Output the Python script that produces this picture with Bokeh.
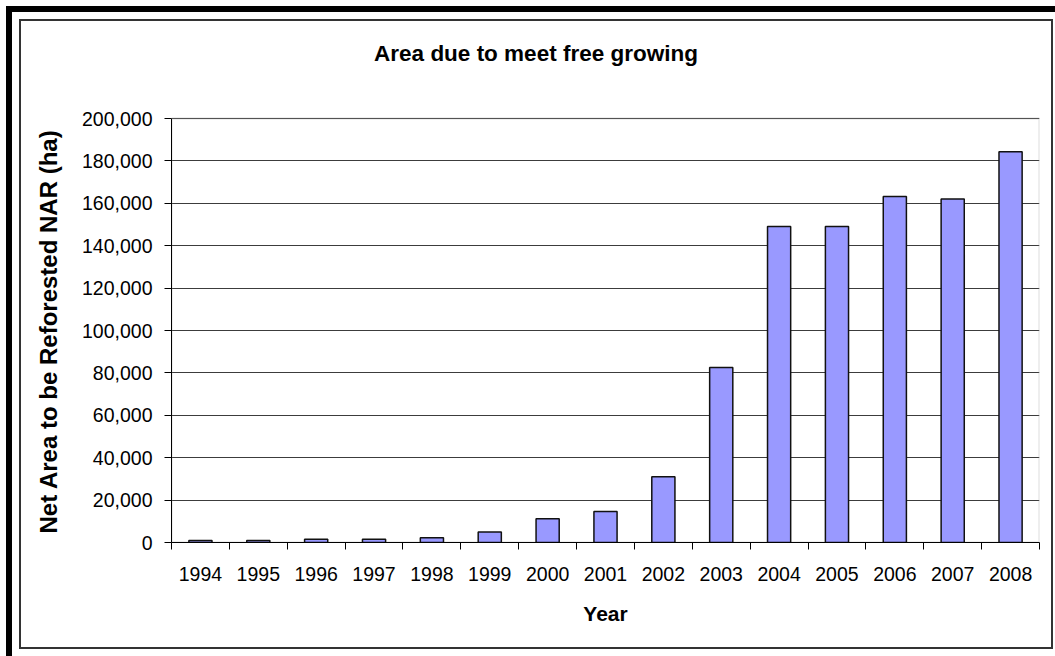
from bokeh.plotting import figure
from bokeh.models import (ColumnDataSource, Range1d, FixedTicker, NumeralTickFormatter,
                          InlineStyleSheet, BoxAnnotation, Label, Title)
from bokeh.embed import file_html
from bokeh.resources import INLINE

# Area due to meet free growing, by year (ha)
years = ["1994", "1995", "1996", "1997", "1998", "1999", "2000", "2001",
         "2002", "2003", "2004", "2005", "2006", "2007", "2008"]
area_ha = [900, 900, 1500, 1500, 2200, 4900, 11200, 14600,
           31000, 82500, 149000, 149000, 163200, 162000, 184300]
y_ticks = [0, 20000, 40000, 60000, 80000, 100000, 120000, 140000,
           160000, 180000, 200000]

TITLE = "Area due to meet free growing"
X_LABEL = "Year"
Y_LABEL = "Net Area to be Reforested NAR  (ha)"

FONT = "Liberation Sans"
W, H = 1055, 656
# pixel layout: value axis runs from PLOT_T (top tick) down to PLOT_B (zero);
# the drawing frame reaches up to FRAME_T so the title can sit inside it
PLOT_L, PLOT_R, PLOT_T, PLOT_B = 171, 1039, 118, 542
FRAME_T = 24

y_max = y_ticks[-1]
y_top = y_max * (PLOT_B - FRAME_T) / (PLOT_B - PLOT_T)

# one category slot per year: bars at slot centres, ticks on slot boundaries
centers = [i + 0.5 for i in range(len(years))]
bounds = list(range(len(years) + 1))

source = ColumnDataSource(dict(x=centers, year=years, area=area_ha))

p = figure(width=W, height=H,
           x_range=Range1d(0, len(years)), y_range=Range1d(0, y_top),
           output_backend="svg", toolbar_location=None,
           min_border_left=PLOT_L, min_border_right=W - PLOT_R,
           min_border_top=FRAME_T, min_border_bottom=H - PLOT_B,
           background_fill_color="white", border_fill_color="white")
p.outline_line_color = None

p.xgrid.visible = False
p.ygrid.grid_line_color = "#3c3c3c"
p.ygrid.grid_line_width = 1

# plot area border (grey, top and right; axes cover the other two sides)
p.add_layout(BoxAnnotation(left=0, right=len(years), bottom=0, top=y_max,
                           fill_alpha=0, line_color="#8c8c8c", line_width=2,
                           level="underlay"))

p.vbar(x="x", top="area", width=0.4, source=source,
       fill_color="#9999FF", line_color="#111111", line_width=1.5)

# chart title, centred over the whole chart area
p.add_layout(Label(x=535.5 - PLOT_L, y=PLOT_B - 53, x_units="screen", y_units="screen",
                   text=TITLE, text_align="center", text_baseline="middle",
                   text_font=FONT, text_font_style="bold", text_font_size="22.5px",
                   text_color="black"))

# x axis: year labels centred, tick marks between categories
xa = p.xaxis[0]
xa.ticker = FixedTicker(ticks=centers, minor_ticks=bounds)
xa.major_label_overrides = {c: y for c, y in zip(centers, years)}
xa.major_tick_out = 0
xa.major_tick_in = 0
xa.minor_tick_out = 7
xa.minor_tick_in = 0
xa.minor_tick_line_color = "black"
xa.axis_line_color = "black"
xa.major_label_text_font = FONT
xa.major_label_text_font_size = "19.5px"
xa.major_label_text_color = "black"
xa.major_label_standoff = 17
xa.axis_label = X_LABEL
xa.axis_label_text_font = FONT
xa.axis_label_text_font_style = "bold"
xa.axis_label_text_font_size = "21px"
xa.axis_label_text_color = "black"
xa.axis_label_standoff = 18

# y axis, drawn only over 0 .. 200,000
ya = p.yaxis[0]
ya.bounds = (0, y_max)
ya.ticker = FixedTicker(ticks=y_ticks)
ya.formatter = NumeralTickFormatter(format="0,0")
ya.major_tick_out = 7
ya.major_tick_in = 0
ya.minor_tick_out = 0
ya.minor_tick_in = 0
ya.major_tick_line_color = "black"
ya.axis_line_color = "black"
ya.major_label_text_font = FONT
ya.major_label_text_font_size = "19.5px"
ya.major_label_text_color = "black"
ya.major_label_standoff = 12

# value-axis caption, set beside the tick labels and started just above zero
p.add_layout(Title(text=Y_LABEL, align="left", offset=9, standoff=35,
                   text_font=FONT, text_font_style="bold", text_font_size="24px",
                   text_color="black"), "left")

# chart area border plus the heavy black edge along the top and left
p.stylesheets = [InlineStyleSheet(css="""
:host { position: relative; }
:host::before {
  content: ""; position: absolute; left: 19px; top: 19px;
  width: 1034px; height: 630px; box-sizing: border-box;
  border: 2px solid #333333; pointer-events: none; z-index: 10;
}
:host::after {
  content: ""; position: absolute; left: 6px; top: 6px; right: 0; bottom: 0;
  box-sizing: border-box; border-top: 6px solid #000000;
  border-left: 6px solid #000000; pointer-events: none; z-index: 10;
}
""")]

open("out.html", "w").write(file_html(p, INLINE))
